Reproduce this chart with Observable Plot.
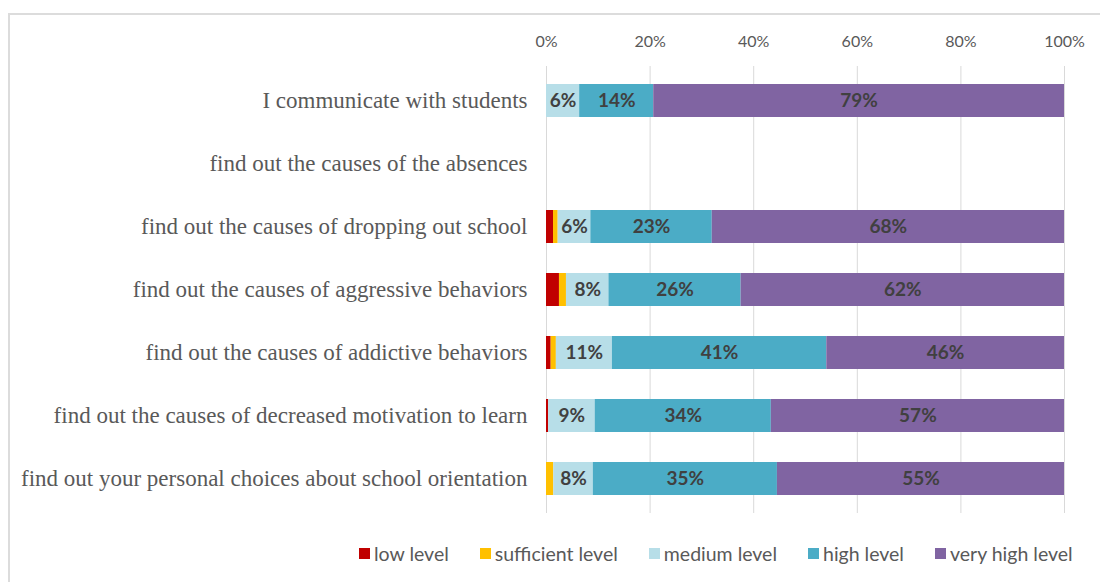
<!DOCTYPE html>
<html>
<head>
<meta charset="utf-8">
<script src="https://cdn.jsdelivr.net/npm/d3@7"></script>
<script src="https://cdn.jsdelivr.net/npm/@observablehq/plot@0.6"></script>
<style>
  html, body { margin: 0; padding: 0; background: #fff; }
  #wrap { position: relative; width: 1100px; height: 582px; overflow: hidden; }
  #frame { position: absolute; left: 8px; top: 13px; width: 1200px; height: 700px;
           border-left: 2px solid #dcdcdc; border-top: 2px solid #dcdcdc; box-sizing: border-box; }
  #chart { position: absolute; left: 0; top: 0; }
  #legend { position: absolute; top: 542px; left: 359px; display: flex; gap: 31px;
            font-family: Lato, sans-serif; font-size: 19.5px; color: #595959; align-items: center; }
  .item { display: flex; align-items: center; gap: 4px; white-space: nowrap; }
  .sw { width: 11px; height: 11px; display: inline-block; }
</style>
</head>
<body>
<div id="wrap">
  <div id="frame"></div>
  <div id="chart"></div>
  <div id="legend"></div>
</div>
<script>
const categories = [
  "I communicate with students",
  "find out the causes of the absences",
  "find out the causes of dropping out school",
  "find out the causes of aggressive behaviors",
  "find out the causes of addictive behaviors",
  "find out the causes of decreased motivation to learn",
  "find out your personal choices about school orientation"
];
const levels = ["low level", "sufficient level", "medium level", "high level", "very high level"];
const colors = ["#C00000", "#FFC000", "#B7DEE8", "#4BACC6", "#8064A2"];

const lowLevel        = [0,    null, 1.35, 2.5,  0.9,  0.4, 0];
const sufficientLevel = [0,    null, 0.9,  1.35, 1.0,  0,   1.4];
const mediumLevel     = [6.4,  null, 6.3,  8.2,  10.8, 9.0, 7.6];
const highLevel       = [14.3, null, 23.4, 25.5, 41.3, 34.0, 35.4];
const veryHighLevel   = [79.3, null, 67.9, 62.4, 45.8, 56.6, 55.2];

const series = [lowLevel, sufficientLevel, mediumLevel, highLevel, veryHighLevel];
const data = [];
categories.forEach((c, i) => {
  levels.forEach((l, j) => {
    const v = series[j][i];
    if (v != null) data.push({category: c, level: l, value: v});
  });
});

const chart = Plot.plot({
  width: 1100,
  height: 530,
  marginLeft: 546,
  marginRight: 36,
  marginTop: 66,
  marginBottom: 17,
  style: {background: "transparent"},
  x: {domain: [0, 1]},
  y: {domain: categories, paddingInner: 0.47, paddingOuter: 0.235},
  color: {domain: levels, range: colors},
  marks: [
    Plot.gridX([0, 0.2, 0.4, 0.6, 0.8, 1], {stroke: "#d9d9d9", strokeOpacity: 1, strokeWidth: 1}),
    Plot.barX(data, Plot.stackX({x: "value", y: "category", fill: "level", order: levels, offset: "normalize"})),
    Plot.text(data, Plot.stackX({
      x: "value", y: "category", z: "level", order: levels, offset: "normalize",
      text: d => d.value >= 5 ? Math.round(d.value) + "%" : "",
      fill: "#404040", fontWeight: "bold", fontSize: 19, fontFamily: "Lato, sans-serif"
    })),
    Plot.axisX([0, 0.2, 0.4, 0.6, 0.8, 1], {
      anchor: "top", tickSize: 0, tickPadding: 20, tickFormat: d3.format(".0%"),
      fill: "#595959", fontSize: 16, fontFamily: "Lato, sans-serif", label: null
    }),
    Plot.axisY({
      tickSize: 0, tickPadding: 19, fill: "#595959", fontSize: 23,
      fontFamily: "Liberation Serif, serif", label: null
    })
  ]
});
document.getElementById("chart").appendChild(chart);

const legend = document.getElementById("legend");
levels.forEach((l, j) => {
  const it = document.createElement("div");
  it.className = "item";
  const sw = document.createElement("span");
  sw.className = "sw";
  sw.style.background = colors[j];
  const tx = document.createElement("span");
  tx.textContent = l;
  it.appendChild(sw);
  it.appendChild(tx);
  legend.appendChild(it);
});
</script>
</body>
</html>
